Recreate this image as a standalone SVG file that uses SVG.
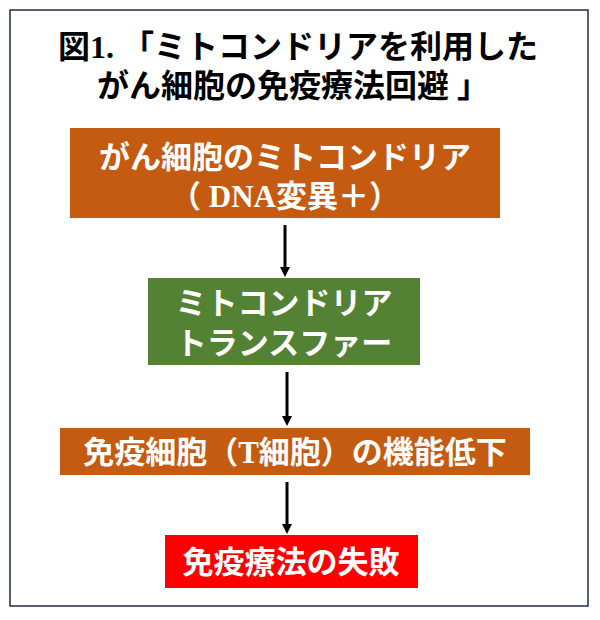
<svg xmlns="http://www.w3.org/2000/svg" width="600" height="620" viewBox="0 0 600 620">
<style>
.t{font-family:"Liberation Serif","Noto Sans CJK JP",serif;font-weight:bold;text-anchor:middle}
.w{fill:#fff;font-size:31px}
.c{stroke:#000;stroke-width:3;fill:none}
</style>
<defs><marker id="a" markerWidth="10" markerHeight="10" refX="5" refY="5" orient="auto" markerUnits="userSpaceOnUse" viewBox="0 0 10 10"><path d="M0,0L10,5L0,10z" fill="#000"/></marker></defs>
<rect x="0" y="0" width="600" height="620" fill="#fff"/>
<rect x="10" y="10" width="578" height="596" fill="#fff" stroke="#1f2a44" stroke-width="1.5"/>
<text class="t" x="298" y="58" font-size="32">図1. 「ミトコンドリアを利用した</text>
<text class="t" x="293" y="97" font-size="32">がん細胞の免疫療法回避 」</text>
<g id="n1"><rect x="70" y="128" width="430" height="90" fill="#C55A11"/>
<text class="t w" x="285" y="168">がん細胞のミトコンドリア</text>
<text class="t w" x="285" y="207">（ DNA変異＋）</text></g>
<g id="n2"><rect x="148" y="278" width="272" height="87" fill="#548235"/>
<text class="t w" x="284" y="314">ミトコンドリア</text>
<text class="t w" x="284" y="354">トランスファー</text></g>
<g id="n3"><rect x="60" y="428" width="470" height="47" fill="#C55A11"/>
<text class="t w" x="295" y="463">免疫細胞（T細胞）の機能低下</text></g>
<g id="n4"><rect x="165" y="535" width="253" height="53" fill="#FF0000"/>
<text class="t w" x="291" y="573">免疫療法の失敗</text></g>
<g id="conn">
<line class="c" x1="285" y1="225" x2="285" y2="272" marker-end="url(#a)"/>
<line class="c" x1="287" y1="372" x2="287" y2="421" marker-end="url(#a)"/>
<line class="c" x1="287" y1="482" x2="287" y2="529" marker-end="url(#a)"/>
</g>
</svg>
